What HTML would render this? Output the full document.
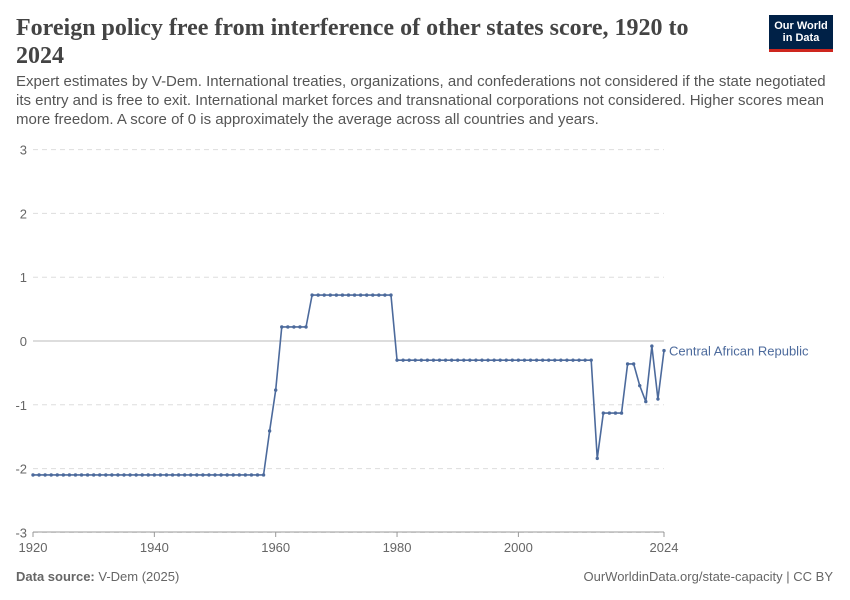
<!DOCTYPE html>
<html><head><meta charset="utf-8">
<style>
body{margin:0;background:#fff;font-family:"Liberation Sans",sans-serif;}
.wrap{position:relative;width:850px;height:600px;overflow:hidden;}
h1{position:absolute;left:16px;top:14px;margin:0;width:690px;font-family:"Liberation Serif",serif;font-weight:600;font-size:24px;line-height:28px;color:#444;}
.sub{position:absolute;left:16px;top:72px;width:810px;font-size:15px;line-height:19px;color:#555;}
.logo{position:absolute;left:769px;top:15px;width:64px;height:37px;background:#002147;color:#fff;font-size:11px;line-height:12px;text-align:center;padding-top:5px;box-sizing:border-box;border-bottom:3px solid #ce261e;font-weight:bold;}
.foot{position:absolute;top:569px;font-size:13px;color:#666;}
</style></head><body>
<div class="wrap">
<h1>Foreign policy free from interference of other states score, 1920 to 2024</h1>
<div class="sub">Expert estimates by V-Dem. International treaties, organizations, and confederations not considered if the state negotiated its entry and is free to exit. International market forces and transnational corporations not considered. Higher scores mean more freedom. A score of 0 is approximately the average across all countries and years.</div>
<div class="logo">Our World<br>in Data</div>
<svg id="chart" width="850" height="600" style="position:absolute;left:0;top:0"></svg>
<div class="foot" style="left:16px"><b>Data source:</b> V-Dem (2025)</div>
<div class="foot" style="right:17px">OurWorldinData.org/state-capacity | CC BY</div>
</div>
<script>
const yTicks=[3,2,1,0,-1,-2,-3];
const xTicks=[1920,1940,1960,1980,2000,2024];
const years=[];const values=[];
for(let y=1920;y<=1958;y++){years.push(y);values.push(-2.1);}
const tailYears=[1959,1960];const tailVals=[-1.41,-0.77];
for(let y=1961;y<=1965;y++){tailYears.push(y);tailVals.push(0.22);}
for(let y=1966;y<=1979;y++){tailYears.push(y);tailVals.push(0.72);}
for(let y=1980;y<=2012;y++){tailYears.push(y);tailVals.push(-0.3);}
const lateYears=[2013,2014,2015,2016,2017,2018,2019,2020,2021,2022,2023,2024];
const lateVals=[-1.84,-1.13,-1.13,-1.13,-1.13,-0.36,-0.36,-0.70,-0.95,-0.08,-0.91,-0.15];
years.push(...tailYears,...lateYears);values.push(...tailVals,...lateVals);
const NS="http://www.w3.org/2000/svg";
const svg=document.getElementById('chart');
const x=v=>33+(v-1920)*(631/104);
const y=v=>341-v*63.8;
function el(t,a){const e=document.createElementNS(NS,t);for(const k in a)e.setAttribute(k,a[k]);svg.appendChild(e);return e;}
yTicks.forEach(t=>{
 const g=el('line',{x1:33,x2:664,y1:y(t),y2:y(t),stroke:t===0?'#bbb':'#ddd','stroke-dasharray':t===0?'':'5,4','stroke-width':1});
 
 
 const tx=el('text',{x:27,y:y(t)+5,'text-anchor':'end','font-size':13,fill:'#666','font-family':'Liberation Sans'});
 tx.textContent=t;
 
 
});
const ax=el('line',{x1:33,x2:664,y1:532,y2:532,stroke:'#999'});


xTicks.forEach(t=>{
 const tk=el('line',{x1:x(t),x2:x(t),y1:532,y2:537,stroke:'#999'});
 
 
 const tx=el('text',{x:x(t),y:552,'text-anchor':'middle','font-size':13,fill:'#666','font-family':'Liberation Sans'});
 tx.textContent=t;
 
 
});
const pts=years.map((yr,i)=>x(yr)+','+y(values[i])).join(' ');
const pl=el('polyline',{points:pts,fill:'none',stroke:'#4c6a9c','stroke-width':1.6});


years.forEach((yr,i)=>{
 const c=el('circle',{cx:x(yr),cy:y(values[i]),r:1.7,fill:'#4c6a9c'});
 
 
});
const lb=el('text',{x:669,y:y(values[values.length-1])+5,'font-size':13,fill:'#4c6a9c','font-family':'Liberation Sans'});
lb.textContent='Central African Republic';


</script>
</body></html>
